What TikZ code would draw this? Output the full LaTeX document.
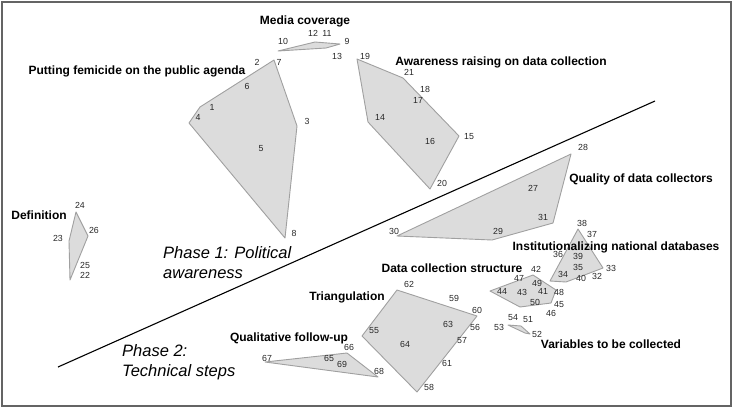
\documentclass[tikz,border=0pt]{standalone}
\usepackage{fontspec}
\setmainfont{Liberation Sans}
\begin{document}
\begin{tikzpicture}[x=1pt,y=-1pt,
  cluster/.style={fill=clfill,draw=cledge,line width=0.9pt,line join=round},
  num/.style={inner sep=0pt,font=\fontsize{8.8}{9}\selectfont,text=black!85},
  ttl/.style={inner sep=0pt,font=\fontsize{12}{13}\selectfont\bfseries},
  phase/.style={inner sep=0pt,font=\fontsize{16.5}{20.5}\selectfont\itshape,align=left,anchor=north west},
  divider/.style={line width=1.1pt,black}]
\definecolor{clfill}{RGB}{220,220,220}
\definecolor{cledge}{RGB}{160,160,160}
\definecolor{frame}{RGB}{100,100,100}
\useasboundingbox (0,0) rectangle (733,408);
\draw[frame,line width=2pt] (1.5,1.5) rectangle (731,406);

% dividing line
\coordinate (L1) at (58,367);
\coordinate (L2) at (655,101);
\draw[divider] (L1) -- (L2);

% phase labels
\node[phase] (ph1) at (163,246) {Phase 1: Political\\awareness};
\node[phase] (ph2) at (122,344) {Phase 2:\\Technical steps};

% clusters
\draw[cluster] (274,60) -- (297,126) -- (285,238) -- (189,123) -- (200,107) -- cycle;
\draw[cluster] (278,51) -- (315,42) -- (340,44) -- (326,48) -- cycle;
\draw[cluster] (357,59) -- (403,78) -- (459,136) -- (430,189) -- (368,122) -- cycle;
\draw[cluster] (76,212) -- (88,236) -- (70,280) -- (69,241) -- cycle;
\draw[cluster] (571,154) -- (553,223) -- (492,240) -- (397,236) -- cycle;
\draw[cluster] (578,229) -- (603,268) -- (566,282) -- (550,281) -- cycle;
\draw[cluster] (533,275) -- (556,290) -- (551,303) -- (520,307) -- (490,291) -- cycle;
\draw[cluster] (508,325) -- (521,326) -- (530,334) -- (525,333) -- cycle;
\draw[cluster] (397,290) -- (477,316) -- (417,392) -- (362,336) -- cycle;
\draw[cluster] (265,362) -- (347,353) -- (378,377) -- cycle;

% titles
\node[ttl] (t1) at (305,21) {Media coverage};
\node[ttl] (t2) at (137,71) {Putting femicide on the public agenda};
\node[ttl] (t3) at (501,62) {Awareness raising on data collection};
\node[ttl] (t4) at (641,179) {Quality of data collectors};
\node[ttl] (t5) at (39,215) {Definition};
\node[ttl] (t6) at (616,247) {Institutionalizing national databases};
\node[ttl] (t7) at (452,268) {Data collection structure};
\node[ttl] (t8) at (347,297) {Triangulation};
\node[ttl] (t9) at (289,338) {Qualitative follow-up};
\node[ttl] (t10) at (611,344) {Variables to be collected};

% numbers
\node[num] (n1) at (212,107) {1};
\node[num] (n2) at (257,62) {2};
\node[num] (n3) at (307,121) {3};
\node[num] (n4) at (198,117) {4};
\node[num] (n5) at (261,149) {5};
\node[num] (n6) at (247,86) {6};
\node[num] (n7) at (279,62) {7};
\node[num] (n8) at (294,233) {8};
\node[num] (n9) at (347,41) {9};
\node[num] (n10) at (283,41) {10};
\node[num] (n11) at (327,33) {11};
\node[num] (n12) at (313,33) {12};
\node[num] (n13) at (337,56) {13};
\node[num] (n14) at (380,117) {14};
\node[num] (n15) at (469,137) {15};
\node[num] (n16) at (430,141) {16};
\node[num] (n17) at (418,100) {17};
\node[num] (n18) at (425,89) {18};
\node[num] (n19) at (365,56) {19};
\node[num] (n20) at (442,183) {20};
\node[num] (n21) at (409,72) {21};
\node[num] (n22) at (85,275) {22};
\node[num] (n23) at (58,238) {23};
\node[num] (n24) at (80,205) {24};
\node[num] (n25) at (85,265) {25};
\node[num] (n26) at (94,230) {26};
\node[num] (n27) at (533,188) {27};
\node[num] (n28) at (583,147) {28};
\node[num] (n29) at (498,231) {29};
\node[num] (n30) at (394,231) {30};
\node[num] (n31) at (543,217) {31};
\node[num] (n32) at (597,276) {32};
\node[num] (n33) at (611,268) {33};
\node[num] (n34) at (563,274) {34};
\node[num] (n35) at (578,267) {35};
\node[num] (n36) at (558,254) {36};
\node[num] (n37) at (592,234) {37};
\node[num] (n38) at (582,223) {38};
\node[num] (n39) at (578,256) {39};
\node[num] (n40) at (581,278) {40};
\node[num] (n41) at (543,291) {41};
\node[num] (n42) at (536,269) {42};
\node[num] (n43) at (522,292) {43};
\node[num] (n44) at (502,291) {44};
\node[num] (n45) at (559,305) {45};
\node[num] (n46) at (551,313) {46};
\node[num] (n47) at (519,278) {47};
\node[num] (n48) at (559,292) {48};
\node[num] (n49) at (537,283) {49};
\node[num] (n50) at (535,302) {50};
\node[num] (n51) at (528,320) {51};
\node[num] (n52) at (537,334) {52};
\node[num] (n53) at (499,327) {53};
\node[num] (n54) at (513,318) {54};
\node[num] (n55) at (374,331) {55};
\node[num] (n56) at (475,327) {56};
\node[num] (n57) at (462,341) {57};
\node[num] (n58) at (429,387) {58};
\node[num] (n59) at (454,298) {59};
\node[num] (n60) at (477,310) {60};
\node[num] (n61) at (447,363) {61};
\node[num] (n62) at (409,284) {62};
\node[num] (n63) at (448,324) {63};
\node[num] (n64) at (405,344) {64};
\node[num] (n65) at (329,358) {65};
\node[num] (n66) at (349,347) {66};
\node[num] (n67) at (267,358) {67};
\node[num] (n68) at (379,371) {68};
\node[num] (n69) at (342,364) {69};
\end{tikzpicture}
\end{document}
